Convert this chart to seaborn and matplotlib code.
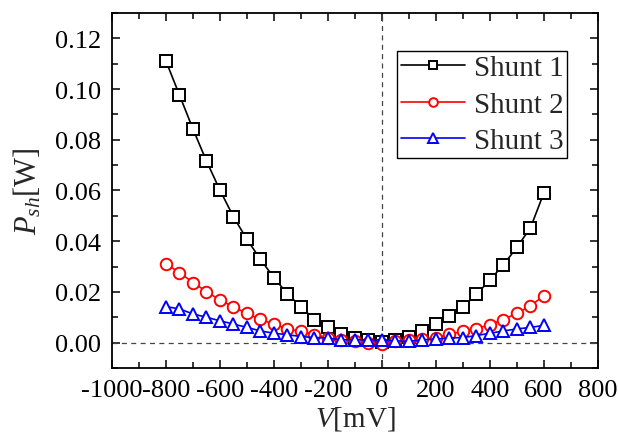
import matplotlib
matplotlib.use("Agg")
import matplotlib.pyplot as plt
from matplotlib.ticker import MultipleLocator, FormatStrFormatter
import numpy as np
import pandas as pd
import seaborn as sns

# Bias voltage (mV)
voltage = [-800, -750, -700, -650, -600, -550, -500, -450, -400, -350,
           -300, -250, -200, -150, -100, -50, 0, 50, 100, 150,
           200, 250, 300, 350, 400, 450, 500, 550, 600]

# Dissipated shunt power (W)
shunt1 = [0.1110, 0.0976, 0.0842, 0.0716, 0.0601, 0.0496, 0.0407, 0.0328, 0.0256, 0.0192,
          0.0141, 0.0091, 0.0061, 0.0033, 0.0020, 0.0011, 0.0004, 0.0012, 0.0024, 0.0044,
          0.0073, 0.0105, 0.0142, 0.0191, 0.0247, 0.0307, 0.0376, 0.0453, 0.0591]
shunt2 = [0.0311, 0.0276, 0.0237, 0.0201, 0.0168, 0.0141, 0.0115, 0.0092, 0.0072, 0.0054,
          0.0044, 0.0031, 0.0020, 0.0010, 0.0005, -0.0002, -0.0006, 0.0007, 0.0011, 0.0015,
          0.0020, 0.0033, 0.0044, 0.0055, 0.0071, 0.0091, 0.0116, 0.0145, 0.0185]
shunt3 = [0.0142, 0.0133, 0.0113, 0.0100, 0.0086, 0.0073, 0.0060, 0.0046, 0.0037, 0.0031,
          0.0024, 0.0020, 0.0018, 0.0011, 0.0011, 0.0011, 0.0011, 0.0007, 0.0005, 0.0011,
          0.0014, 0.0018, 0.0020, 0.0028, 0.0037, 0.0046, 0.0054, 0.0060, 0.0068]

series_names = ["Shunt 1", "Shunt 2", "Shunt 3"]
colors = ["black", "red", "blue"]
markers = ["s", "o", "^"]

sns.set_style("ticks")
plt.rcParams["font.family"] = ["Liberation Serif", "DejaVu Serif"]
plt.rcParams["mathtext.fontset"] = "custom"
plt.rcParams["mathtext.rm"] = "Liberation Serif"
plt.rcParams["mathtext.it"] = "Liberation Serif:italic"
plt.rcParams["axes.unicode_minus"] = False

fig = plt.figure(figsize=(6.18, 4.39), dpi=100)
ax = fig.add_axes([0.1812, 0.1595, 0.7864, 0.8088])

# Reference lines through the origin
ax.axhline(0, color="#444444", lw=0.9, ls=(0, (4, 3.5)), zorder=1)
ax.axvline(0, color="#444444", lw=0.9, ls=(0, (4, 3.5)), zorder=1)

for name, vals, c, m in zip(series_names, [shunt1, shunt2, shunt3], colors, markers):
    df = pd.DataFrame({"V": voltage, "P": vals})
    sns.lineplot(data=df, x="V", y="P", ax=ax, color=c, lw=1.2,
                 marker=m, markersize=8.3 if m != "^" else 8.8,
                 markerfacecolor="white", markeredgecolor=c, markeredgewidth=1.4,
                 label=name, zorder=3)

ax.set_xlim(-1000, 800)
ax.set_ylim(-0.01, 0.13)
ax.xaxis.set_major_locator(MultipleLocator(200))
ax.xaxis.set_minor_locator(MultipleLocator(100))
ax.yaxis.set_major_locator(MultipleLocator(0.02))
ax.yaxis.set_minor_locator(MultipleLocator(0.01))
ax.yaxis.set_major_formatter(FormatStrFormatter("%.2f"))
ax.set_yticks(np.arange(0, 0.121, 0.02))

ax.tick_params(which="both", direction="in", top=True, right=True,
               labelsize=19, width=1.1, colors="black")
ax.tick_params(which="major", length=6)
ax.tick_params(which="minor", length=4)
ax.tick_params(axis="x", pad=8)
ax.tick_params(axis="y", pad=8)
for sp in ax.spines.values():
    sp.set_linewidth(1.3)
    sp.set_color("black")

ax.set_xlabel(r"$V$[mV]", fontsize=21, labelpad=2)
ax.set_ylabel(r"$P_{sh}$[W]", fontsize=22, labelpad=8)

leg = ax.legend(loc="upper right", bbox_to_anchor=(0.936, 0.892), fontsize=21,
                frameon=True, fancybox=False, edgecolor="black", framealpha=1,
                handlelength=2.2, handletextpad=0.3, borderpad=0.12,
                labelspacing=0.35, markerscale=0.75, borderaxespad=0)
leg.get_frame().set_linewidth(1.0)

fig.savefig("out.png", dpi=100)
